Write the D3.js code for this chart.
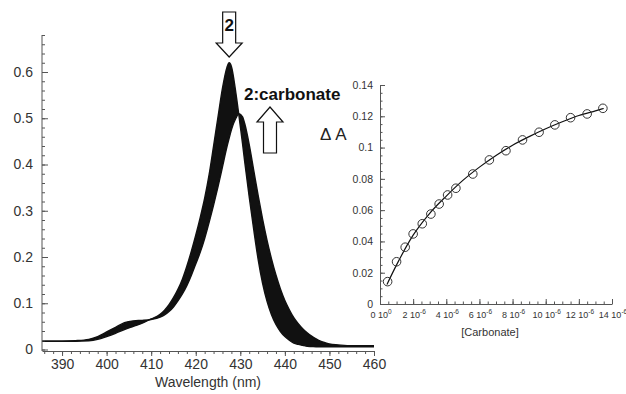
<!DOCTYPE html>
<html>
<head>
<meta charset="utf-8">
<script src="https://cdn.jsdelivr.net/npm/d3@7"></script>
<style>
  body { margin: 0; background: #fff; }
  svg { display: block; font-family: "Liberation Sans", Arial, sans-serif; }
</style>
</head>
<body>
<svg id="chart" width="626" height="394"></svg>
<script>
// spectra (absorbance vs wavelength)
const wavelengths = [385.5, 390, 393, 396, 398, 400, 402, 404, 406, 408, 410, 412, 413, 414, 415, 416, 417, 418, 419, 420,
  421, 422, 423, 424, 425, 426, 427, 427.5, 428, 429, 429.7, 430.5, 431, 432, 433, 434, 435, 436, 437, 438,
  439, 440, 441, 442, 443, 444, 445, 446, 447, 448, 449, 450, 452, 455, 460];
const absStart = [0.018, 0.018, 0.018, 0.019, 0.022, 0.028, 0.035, 0.043, 0.050, 0.057, 0.066, 0.076, 0.085, 0.097, 0.112, 0.130, 0.152, 0.180, 0.212, 0.247,
  0.285, 0.327, 0.378, 0.440, 0.503, 0.565, 0.610, 0.620, 0.612, 0.555, 0.505, 0.445, 0.405, 0.330, 0.260, 0.195, 0.143, 0.104, 0.075, 0.054,
  0.039, 0.028, 0.020, 0.014, 0.011, 0.009, 0.007, 0.0065, 0.006, 0.006, 0.006, 0.006, 0.006, 0.006, 0.006];
const absEnd = [0.018, 0.018, 0.019, 0.022, 0.028, 0.038, 0.048, 0.058, 0.062, 0.063, 0.065, 0.070, 0.075, 0.082, 0.092, 0.105, 0.120, 0.138, 0.160, 0.185,
  0.210, 0.240, 0.275, 0.312, 0.352, 0.395, 0.438, 0.457, 0.475, 0.500, 0.510, 0.503, 0.488, 0.443, 0.388, 0.333, 0.282, 0.236, 0.196, 0.161,
  0.131, 0.106, 0.086, 0.069, 0.056, 0.045, 0.036, 0.029, 0.023, 0.018, 0.015, 0.012, 0.010, 0.008, 0.008];
const wlTicks = [390, 400, 410, 420, 430, 440, 450, 460];
const absTicks = [0, 0.1, 0.2, 0.3, 0.4, 0.5, 0.6];

// titration: delta A vs [carbonate] (units of 1e-6 M)
const carbonate = [0.46, 1.0, 1.52, 2.0, 2.55, 3.07, 3.57, 4.08, 4.58, 5.6, 6.6, 7.6, 8.6, 9.6, 10.55, 11.5, 12.5, 13.45];
const deltaA = [0.0143, 0.027, 0.0363, 0.0448, 0.0513, 0.0575, 0.0639, 0.0697, 0.074, 0.0831, 0.0921, 0.098, 0.1049, 0.1098, 0.1145, 0.1191, 0.1215, 0.1251];
const fitX = [0.42, 1, 2, 3, 4, 5, 6, 7, 8, 9, 10, 11, 12, 13, 13.5];
const fitY = [0.0125, 0.025, 0.044, 0.058, 0.069, 0.079, 0.0875, 0.095, 0.1015, 0.107, 0.112, 0.1165, 0.1205, 0.1235, 0.125];
const concTicks = [0, 2, 4, 6, 8, 10, 12, 14];
const dATicks = [0, 0.02, 0.04, 0.06, 0.08, 0.1, 0.12, 0.14];

const svg = d3.select("#chart");
const axisColor = "#555", textColor = "#333";

// ---------- main spectrum panel ----------
const x = d3.scaleLinear().domain([385.5, 460]).range([42, 374]);
const y = d3.scaleLinear().domain([0, 0.68]).range([349.5, 35]);

const band = d3.area()
  .x((d, i) => x(wavelengths[i]))
  .y0((d, i) => y(absEnd[i]))
  .y1((d, i) => y(absStart[i]))
  .curve(d3.curveMonotoneX);
svg.append("path").datum(wavelengths).attr("d", band).attr("fill", "#111");

const line = vals => d3.line()
  .x((d, i) => x(wavelengths[i]))
  .y((d, i) => y(vals[i]))
  .curve(d3.curveMonotoneX)(wavelengths);
[absStart, absEnd].forEach(v => {
  svg.append("path").attr("d", line(v)).attr("fill", "none")
    .attr("stroke", "#111").attr("stroke-width", 1.4);
});

function styleAxis(g) {
  g.selectAll("path, line").attr("stroke", axisColor);
  g.selectAll("text").attr("fill", textColor).attr("font-family", null);
}

svg.append("g").attr("transform", "translate(0,351)")
  .call(d3.axisBottom(x).tickValues(d3.range(386, 461, 2)).tickSize(3).tickSizeOuter(0).tickFormat(""))
  .call(styleAxis);
svg.append("g").attr("transform", "translate(0,351)")
  .call(d3.axisBottom(x).tickValues(wlTicks).tickSize(5).tickSizeOuter(0).tickPadding(3))
  .call(g => g.select(".domain").remove())
  .call(styleAxis)
  .selectAll("text").attr("font-size", 14);

svg.append("g").attr("transform", "translate(42,0)")
  .call(d3.axisLeft(y).tickValues(d3.range(0, 0.681, 0.02)).tickSize(-3).tickSizeOuter(0).tickFormat(""))
  .call(g => g.select(".domain").attr("d", "M0," + y(0.68) + "V351"))
  .call(styleAxis);
svg.append("g").attr("transform", "translate(42,0)")
  .call(d3.axisLeft(y).tickValues(absTicks).tickSize(-6).tickPadding(9)
    .tickFormat(d => d === 0 ? "0" : d3.format(".1f")(d)))
  .call(g => g.select(".domain").remove())
  .call(styleAxis)
  .selectAll("text").attr("font-size", 14);

svg.append("text").attr("x", 208).attr("y", 387).attr("text-anchor", "middle")
  .attr("font-size", 14).attr("fill", textColor).text("Wavelength (nm)");

// arrows
const ax = x(427.5);
svg.append("path")
  .attr("d", `M${ax - 6.5},12 H${ax + 6.5} V43 H${ax + 13} L${ax},57 L${ax - 13},43 H${ax - 6.5} Z`)
  .attr("fill", "#fff").attr("stroke", "#111").attr("stroke-width", 1.2);
svg.append("text").attr("x", ax).attr("y", 31).attr("text-anchor", "middle")
  .attr("font-size", 17).attr("font-weight", "bold").attr("fill", "#111").text("2");

const ux = 270;
svg.append("path")
  .attr("d", `M${ux - 6.5},153 V122 H${ux - 13} L${ux},107 L${ux + 13},122 H${ux + 6.5} V153 Z`)
  .attr("fill", "#fff").attr("stroke", "#111").attr("stroke-width", 1.2);
svg.append("text").attr("x", 244).attr("y", 100)
  .attr("font-size", 17).attr("font-weight", "bold").attr("fill", "#111").text("2:carbonate");

// ---------- inset titration panel ----------
const x2 = d3.scaleLinear().domain([0, 14]).range([380, 612]);
const y2 = d3.scaleLinear().domain([0, 0.14]).range([304, 85]);

svg.append("g").attr("transform", "translate(0,304)")
  .call(d3.axisBottom(x2).tickValues(d3.range(0, 14.01, 0.5)).tickSize(-2.5).tickSizeOuter(0).tickFormat(""))
  .call(styleAxis);
svg.append("g").attr("transform", "translate(0,304)")
  .call(d3.axisBottom(x2).tickValues(concTicks).tickSize(-5).tickFormat(""))
  .call(g => g.select(".domain").remove())
  .call(styleAxis);

const xl = svg.append("g").attr("font-size", 9).attr("fill", textColor);
concTicks.forEach(v => {
  const t = xl.append("text").attr("x", x2(v) + 1).attr("y", 318).attr("text-anchor", "middle");
  t.append("tspan").text(v + " 10");
  t.append("tspan").attr("dy", -4).attr("font-size", 6.5).text(v === 0 ? "0" : "-6");
});

svg.append("g").attr("transform", "translate(380,0)")
  .call(d3.axisLeft(y2).tickValues(d3.range(0, 0.1401, 0.005)).tickSize(-2.5).tickSizeOuter(0).tickFormat(""))
  .call(styleAxis);
svg.append("g").attr("transform", "translate(380,0)")
  .call(d3.axisLeft(y2).tickValues(dATicks).tickSize(-5).tickPadding(7)
    .tickFormat(d => d === 0 ? "0" : d3.format("")(+d.toFixed(2))))
  .call(g => g.select(".domain").remove())
  .call(styleAxis)
  .selectAll("text").attr("font-size", 10.5);

svg.append("path")
  .attr("d", d3.line().x((d, i) => x2(fitX[i])).y((d, i) => y2(fitY[i])).curve(d3.curveMonotoneX)(fitX))
  .attr("fill", "none").attr("stroke", "#111").attr("stroke-width", 1.2);

svg.append("g").selectAll("circle").data(carbonate).enter().append("circle")
  .attr("cx", d => x2(d))
  .attr("cy", (d, i) => y2(deltaA[i]))
  .attr("r", 4.3)
  .attr("fill", "none").attr("stroke", "#333").attr("stroke-width", 1);

svg.append("text").attr("x", 490).attr("y", 336).attr("text-anchor", "middle")
  .attr("font-size", 11).attr("fill", textColor).text("[Carbonate]");
svg.append("text").attr("x", 320).attr("y", 140)
  .attr("font-size", 17).attr("fill", "#222").text("Δ A");
</script>
</body>
</html>
